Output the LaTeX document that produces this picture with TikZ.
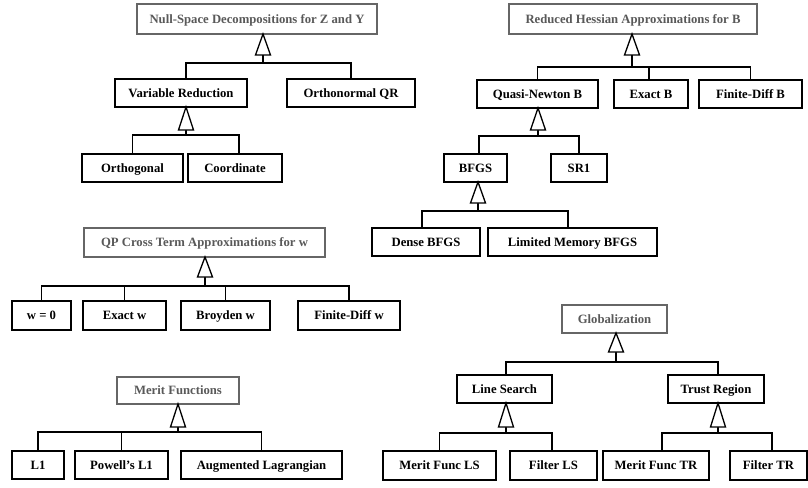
\documentclass[tikz,border=0pt]{standalone}
\usepackage{fontspec}
\setmainfont{Liberation Serif}
\begin{document}
\begin{tikzpicture}[x=1pt,y=-1pt,
  every node/.style={font=\fontsize{12.7}{14}\selectfont\bfseries, inner sep=0pt, anchor=center, text height=8.6pt, text depth=0pt},
  cbox/.style={draw=black, line width=1.4pt, fill=white, minimum height=28pt},
  gbox/.style={draw=black!60, line width=1.1pt, fill=white, text=black!65, minimum height=29pt},
  conn/.style={draw=black, line width=1.2pt},
  tri/.style={draw=black, line width=1.3pt, fill=white, line join=miter}]
\useasboundingbox (0,0) rectangle (808,487);
\newcommand{\gentri}[2]{\draw[tri] #1 -- ++(-7.5,#2) -- ++(15,0) -- cycle;}

% ---------- Null-space ----------
\node[gbox, minimum width=240pt, minimum height=30pt] (ns) at (257,19) {Null-Space Decompositions for Z and Y};
\node[cbox, minimum width=132pt] (vr) at (181,93) {Variable Reduction};
\node[cbox, minimum width=128pt] (oqr) at (351,93) {Orthonormal QR};
\node[cbox, minimum width=101pt] (orth) at (132.5,168) {Orthogonal};
\node[cbox, minimum width=94pt] (coord) at (235,168) {Coordinate};
\coordinate (nsa) at (263,34);
\coordinate (nsb) at (263,63);
\draw[conn] (nsa) -- (nsb);
\draw[conn] ([xshift=5pt]vr.north) |- (nsb) -| (oqr.north);
\gentri{(nsa)}{21}
\coordinate (vra) at (186,107);
\coordinate (vrb) at (186,135);
\draw[conn] (vra) -- (vrb);
\draw[conn] (orth.north) |- (vrb) -| ([xshift=4pt]coord.north);
\gentri{(vra)}{23}

% ---------- Reduced Hessian ----------
\node[gbox, minimum width=248pt, minimum height=30pt] (rh) at (633,19) {Reduced Hessian Approximations for B};
\node[cbox, minimum width=121pt] (qn) at (537.5,94) {Quasi-Newton B};
\node[cbox, minimum width=74pt] (exb) at (651,94) {Exact B};
\node[cbox, minimum width=103pt] (fdb) at (750.5,94) {Finite-Diff B};
\node[cbox, minimum width=63pt] (bfgs) at (475.5,168) {BFGS};
\node[cbox, minimum width=56pt] (sr1) at (579,168) {SR1};
\node[cbox, minimum width=108pt] (dbfgs) at (426,242) {Dense BFGS};
\node[cbox, minimum width=169pt] (lbfgs) at (572.5,242) {Limited Memory BFGS};
\coordinate (rha) at (632,34);
\coordinate (rhb) at (632,67);
\draw[conn] (rha) -- (rhb);
\draw[conn] (qn.north) |- (rhb) -| (fdb.north);
\draw[conn] ([xshift=-2pt]exb.north) -- ([xshift=-2pt]exb.north |- rhb);
\gentri{(rha)}{21}
\coordinate (qna) at (538,108);
\coordinate (qnb) at (538,136);
\draw[conn] (qna) -- (qnb);
\draw[conn] ([xshift=3.5pt]bfgs.north) |- (qnb) -| (sr1.north);
\gentri{(qna)}{22}
\coordinate (bfa) at (478,182);
\coordinate (bfb) at (478,211);
\draw[conn] (bfa) -- (bfb);
\draw[conn] ([xshift=-4pt]dbfgs.north) |- (bfb) -| ([xshift=-4.5pt]lbfgs.north);
\gentri{(bfa)}{21}

% ---------- QP cross term ----------
\node[gbox, minimum width=241pt] (qp) at (204.5,242.5) {QP Cross Term Approximations for w};
\node[cbox, minimum width=59pt, minimum height=29pt] (w0) at (41.5,315.5) {w = 0};
\node[cbox, minimum width=83pt, minimum height=29pt] (exw) at (124.5,315.5) {Exact w};
\node[cbox, minimum width=89pt, minimum height=29pt] (brw) at (225.5,315.5) {Broyden w};
\node[cbox, minimum width=102pt, minimum height=29pt] (fdw) at (349,315.5) {Finite-Diff w};
\coordinate (qpa) at (205,257);
\coordinate (qpb) at (205,286);
\draw[conn] (qpa) -- (qpb);
\draw[conn] (w0.north) |- (qpb) -| (fdw.north);
\draw[conn] (exw.north) -- (exw.north |- qpb);
\draw[conn] (brw.north) -- (brw.north |- qpb);
\gentri{(qpa)}{20}

% ---------- Merit functions ----------
\node[gbox, minimum width=122pt, minimum height=27pt] (mf) at (178,390.5) {Merit Functions};
\node[cbox, minimum width=52pt] (l1) at (38,465) {L1};
\node[cbox, minimum width=93pt] (pl1) at (121.5,465) {Powell’s L1};
\node[cbox, minimum width=161pt] (al) at (261.5,465) {Augmented Lagrangian};
\coordinate (mfa) at (178,404);
\coordinate (mfb) at (178,432);
\draw[conn] (mfa) -- (mfb);
\draw[conn] (l1.north) |- (mfb) -| (al.north);
\draw[conn] (pl1.north) -- (pl1.north |- mfb);
\gentri{(mfa)}{23}

% ---------- Globalization ----------
\node[gbox, minimum width=105pt, minimum height=28pt] (glob) at (614.5,319) {Globalization};
\node[cbox, minimum width=95pt] (ls) at (504.5,389) {Line Search};
\node[cbox, minimum width=96pt] (tr) at (716,389) {Trust Region};
\node[cbox, minimum width=113pt, minimum height=29pt] (mfls) at (439.5,465.5) {Merit Func LS};
\node[cbox, minimum width=87pt, minimum height=29pt] (fls) at (553.5,465.5) {Filter LS};
\node[cbox, minimum width=106pt, minimum height=29pt] (mftr) at (656,465.5) {Merit Func TR};
\node[cbox, minimum width=77pt, minimum height=29pt] (ftr) at (768.5,465.5) {Filter TR};
\coordinate (gla) at (616,333);
\coordinate (glb) at (616,362);
\draw[conn] (gla) -- (glb);
\draw[conn] ([xshift=1.5pt]ls.north) |- (glb) -| ([xshift=2pt]tr.north);
\gentri{(gla)}{19}
\coordinate (lsa) at (506,403);
\coordinate (lsb) at (506,433);
\draw[conn] (lsa) -- (lsb);
\draw[conn] (mfls.north) |- (lsb) -| ([xshift=-1.5pt]fls.north);
\gentri{(lsa)}{24}
\coordinate (tra) at (718,403);
\coordinate (trb) at (718,433);
\draw[conn] (tra) -- (trb);
\draw[conn] ([xshift=6pt]mftr.north) |- (trb) -| ([xshift=3.5pt]ftr.north);
\gentri{(tra)}{24}
\end{tikzpicture}
\end{document}
